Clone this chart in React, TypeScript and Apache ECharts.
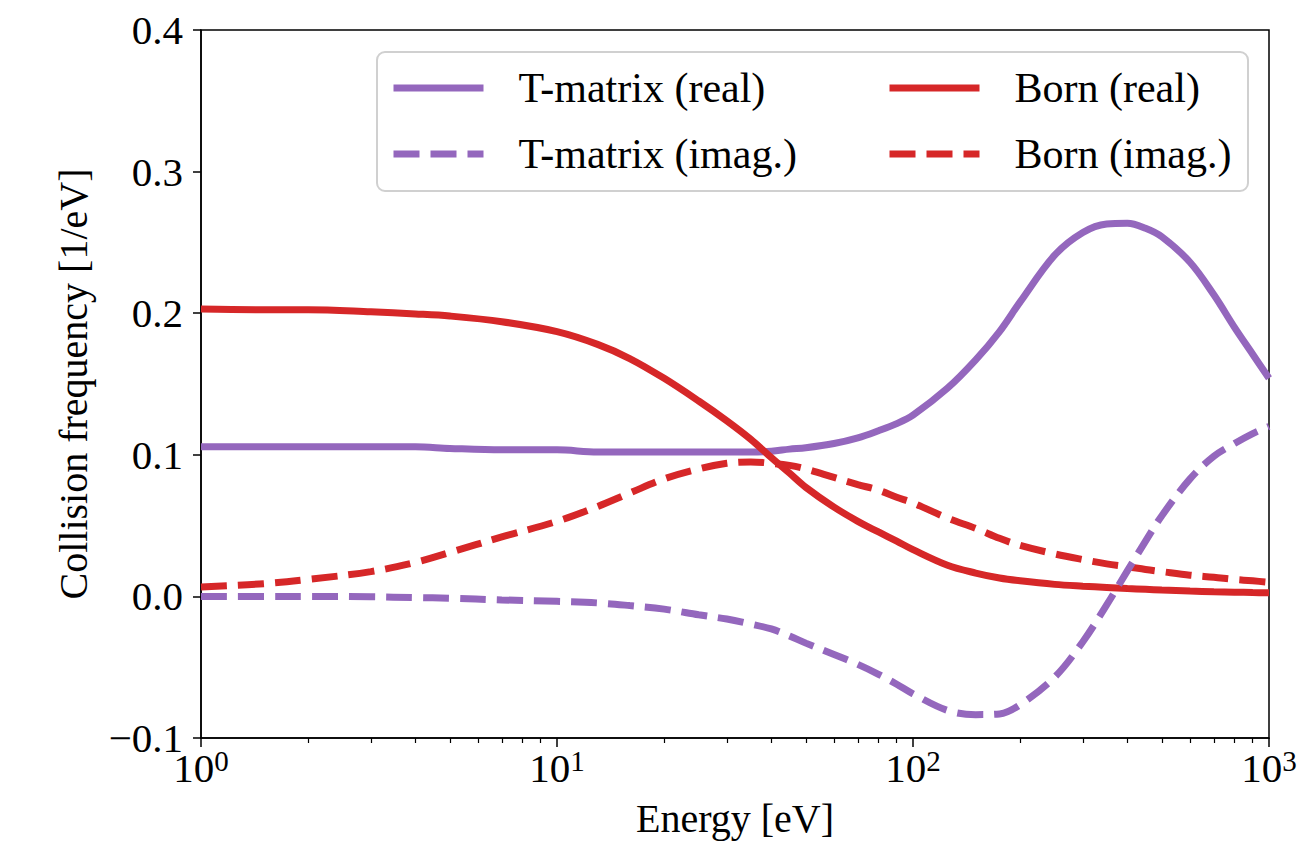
import React, { useEffect, useRef } from "react";
import * as echarts from "echarts";

// Energy grid [eV]
const energy = [1, 1.5, 2, 3, 4, 5, 7, 10, 13, 16, 20, 25, 30, 35, 40, 45, 50, 60, 70, 80, 90, 100, 125, 150, 175, 200, 250, 300, 350, 400, 450, 500, 600, 700, 800, 900, 1000];

const tmatrixReal = [0.1056, 0.1056, 0.1056, 0.1056, 0.1056, 0.1045, 0.1035, 0.1035, 0.102, 0.102, 0.102, 0.102, 0.102, 0.102, 0.1025, 0.104, 0.105, 0.108, 0.112, 0.117, 0.122, 0.128, 0.147, 0.167, 0.187, 0.208, 0.241, 0.257, 0.263, 0.2635, 0.26, 0.254, 0.236, 0.213, 0.19, 0.171, 0.154];

const tmatrixImag = [0.0, 0.0, 0.0, -0.0003, -0.0008, -0.0013, -0.0025, -0.0035, -0.0046, -0.0065, -0.009, -0.013, -0.016, -0.0195, -0.023, -0.028, -0.033, -0.041, -0.048, -0.055, -0.062, -0.0688, -0.0805, -0.0835, -0.083, -0.0765, -0.057, -0.032, -0.006, 0.018, 0.039, 0.057, 0.083, 0.099, 0.108, 0.115, 0.12];

const bornReal = [0.203, 0.2025, 0.2025, 0.201, 0.1995, 0.198, 0.194, 0.187, 0.178, 0.168, 0.154, 0.138, 0.124, 0.111, 0.098, 0.087, 0.077, 0.063, 0.053, 0.0455, 0.039, 0.033, 0.022, 0.0165, 0.013, 0.011, 0.0085, 0.0072, 0.0063, 0.0055, 0.005, 0.0045, 0.0038, 0.0033, 0.003, 0.0027, 0.0025];

const bornImag = [0.0067, 0.009, 0.012, 0.0175, 0.024, 0.031, 0.042, 0.053, 0.0635, 0.073, 0.083, 0.09, 0.094, 0.095, 0.094, 0.0925, 0.09, 0.084, 0.079, 0.075, 0.07, 0.066, 0.0553, 0.048, 0.041, 0.036, 0.03, 0.026, 0.023, 0.021, 0.019, 0.0175, 0.015, 0.0135, 0.012, 0.011, 0.01];

const minorTickValues = [2, 3, 4, 5, 6, 7, 8, 9, 20, 30, 40, 50, 60, 70, 80, 90, 200, 300, 400, 500, 600, 700, 800, 900];

const seriesNames = {
  tReal: "T-matrix (real)",
  tImag: "T-matrix (imag.)",
  bReal: "Born (real)",
  bImag: "Born (imag.)",
};

const PURPLE = "#9467bd";
const RED = "#d62728";
const FONT = "Liberation Serif";
const LW = 7;
const DASH = [26, 11];

const pairs = (ys: number[]) => energy.map((e, i) => [e, ys[i]]);

export default function App() {
  const ref = useRef<HTMLDivElement>(null);
  useEffect(() => {
    const chart = echarts.init(ref.current!, null, { renderer: "svg" });
    const legendText = {
      fontFamily: FONT,
      fontSize: 42,
      lineHeight: 40,
      color: "#000",
      padding: [0, 0, 0, 30],
    };
    const hiddenSymbol = { opacity: 0 };
    const lineSeries = (name: string, ys: number[], color: string, type: any) => ({
      name,
      type: "line",
      data: pairs(ys),
      showSymbol: false,
      symbol: "none",
      smooth: 0.35,
      lineStyle: { color, width: LW, type },
      itemStyle: { color },
    });
    chart.setOption({
      animation: false,
      backgroundColor: "#fff",
      textStyle: { fontFamily: FONT },
      grid: {
        left: 201,
        right: 39,
        top: 30,
        bottom: 106,
        show: true,
        borderColor: "#000",
        borderWidth: 1.5,
        backgroundColor: "transparent",
      },
      graphic: [
        {
          type: "rect",
          left: 376,
          top: 51,
          shape: { width: 871, height: 139, r: 8 },
          style: { fill: "rgba(255,255,255,0.8)", stroke: "#d0d0d0", lineWidth: 2 },
          z: 5,
        },
      ],
      legend: [
        {
          data: [
            { name: seriesNames.tReal, itemStyle: hiddenSymbol, lineStyle: { width: LW, type: "solid" } },
            { name: seriesNames.tImag, itemStyle: hiddenSymbol, lineStyle: { width: LW, type: DASH } },
          ],
          orient: "vertical",
          left: 390,
          top: 67,
          padding: 0,
          itemWidth: 90,
          itemHeight: 20,
          itemGap: 24,
          selectedMode: false,
          textStyle: legendText,
          z: 10,
        },
        {
          data: [
            { name: seriesNames.bReal, itemStyle: hiddenSymbol, lineStyle: { width: LW, type: "solid" } },
            { name: seriesNames.bImag, itemStyle: hiddenSymbol, lineStyle: { width: LW, type: DASH } },
          ],
          orient: "vertical",
          left: 886,
          top: 67,
          padding: 0,
          itemWidth: 90,
          itemHeight: 20,
          itemGap: 24,
          selectedMode: false,
          textStyle: legendText,
          z: 10,
        },
      ],
      xAxis: [
        {
          type: "log",
          logBase: 10,
          min: 1,
          max: 1000,
          name: "Energy [eV]",
          nameLocation: "middle",
          nameGap: 60,
          nameTextStyle: { fontFamily: FONT, fontSize: 40, color: "#000" },
          axisLine: { show: true, onZero: false, lineStyle: { color: "#000", width: 1.5 } },
          axisTick: { show: true, length: 9, lineStyle: { color: "#000", width: 1.5 } },
          splitLine: { show: false },
          minorTick: { show: false },
          axisLabel: {
            margin: 8,
            color: "#000",
            fontFamily: FONT,
            fontSize: 41,
            lineHeight: 44,
            formatter: (v: number) => `10{sup|${Math.round(Math.log10(v))}}`,
            rich: {
              sup: { fontFamily: FONT, fontSize: 29, lineHeight: 27, verticalAlign: "top", color: "#000" },
            },
          },
        },
        {
          type: "log",
          logBase: 10,
          min: 1,
          max: 1000,
          position: "bottom",
          axisLine: { show: false, onZero: false },
          axisLabel: { show: false },
          splitLine: { show: false },
          axisTick: {
            show: true,
            length: 5,
            customValues: minorTickValues,
            lineStyle: { color: "#000", width: 1.2 },
          },
        },
      ],
      yAxis: {
        type: "value",
        min: -0.1,
        max: 0.4,
        interval: 0.1,
        name: "Collision frequency [1/eV]",
        nameLocation: "middle",
        nameGap: 108,
        nameTextStyle: { fontFamily: FONT, fontSize: 40, color: "#000" },
        axisLine: { show: true, onZero: false, lineStyle: { color: "#000", width: 1.5 } },
        axisTick: { show: true, length: 8, lineStyle: { color: "#000", width: 1.5 } },
        splitLine: { show: false },
        axisLabel: {
          margin: 18,
          color: "#000",
          fontFamily: FONT,
          fontSize: 41,
          formatter: (v: number) => {
            if (Math.abs(v) < 1e-9) return "0.0";
            const s = v.toFixed(1);
            return s.replace("-", "\u2212");
          },
        },
      },
      series: [
        lineSeries(seriesNames.tReal, tmatrixReal, PURPLE, "solid"),
        lineSeries(seriesNames.bReal, bornReal, RED, "solid"),
        lineSeries(seriesNames.bImag, bornImag, RED, DASH),
        lineSeries(seriesNames.tImag, tmatrixImag, PURPLE, DASH),
      ],
    });
    return () => chart.dispose();
  }, []);
  return (
    <div
      ref={ref}
      style={{ position: "fixed", left: 0, top: 0, width: 1308, height: 844, background: "#fff" }}
    />
  );
}
